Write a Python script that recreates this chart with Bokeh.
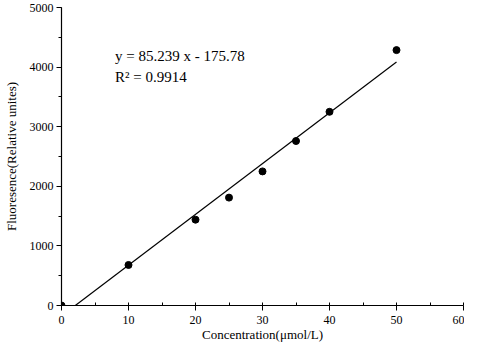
from bokeh.plotting import figure
from bokeh.models import Range1d, SingleIntervalTicker, Label
from bokeh.embed import file_html
from bokeh.resources import INLINE

# Data
conc = [0, 10, 20, 25, 30, 35, 40, 50]
fluor = [0, 680, 1440, 1810, 2250, 2760, 3250, 4285]
slope = 85.239
intercept = -175.78
r2 = 0.9914
x_tick_interval = 10
y_tick_interval = 1000
x_title = "Concentration(μmol/L)"
y_title = "Fluoresence(Relative unites)"

FONT = "Liberation Serif"

p = figure(width=464, height=344, output_backend="svg", toolbar_location=None,
           x_range=Range1d(0, 60), y_range=Range1d(0, 5000),
           min_border_left=54, min_border_right=1, min_border_top=7, min_border_bottom=38)
p.outline_line_color = None
p.xgrid.visible = False
p.ygrid.visible = False
p.background_fill_color = "white"

# fit line from x-intercept to last concentration
x0 = -intercept / slope
x1 = max(conc)
p.line([x0, x1], [slope * x0 + intercept, slope * x1 + intercept], line_color="black", line_width=1.2)
p.scatter(conc, fluor, size=7, color="black")

p.xaxis.ticker = SingleIntervalTicker(interval=x_tick_interval, num_minor_ticks=2)
p.yaxis.ticker = SingleIntervalTicker(interval=y_tick_interval, num_minor_ticks=2)

for ax in (p.xaxis[0], p.yaxis[0]):
    ax.axis_line_color = "black"
    ax.axis_line_width = 1.2
    ax.major_tick_line_color = "black"
    ax.minor_tick_line_color = "black"
    ax.major_tick_in = 0
    ax.major_tick_out = 5
    ax.major_label_text_font = FONT
    ax.major_label_text_font_size = "12px"
    ax.major_label_text_color = "black"
    ax.axis_label_text_font = FONT
    ax.axis_label_text_font_size = "13px"
    ax.axis_label_text_font_style = "normal"
    ax.axis_label_text_color = "black"

p.xaxis.minor_tick_in = 3
p.xaxis.minor_tick_out = 0
p.yaxis.minor_tick_in = 0
p.yaxis.minor_tick_out = 3

p.xaxis.axis_label = x_title
p.yaxis.axis_label = y_title
p.xaxis.major_label_standoff = 5
p.yaxis.major_label_standoff = 3
p.xaxis.axis_label_standoff = 0
p.yaxis.axis_label_standoff = 8

eq = "y = %.3f x - %.2f" % (slope, -intercept)
p.add_layout(Label(x=8.0, y=4180, text=eq, text_font=FONT, text_font_size="15px",
                   text_color="black", text_baseline="middle"))
p.add_layout(Label(x=8.0, y=3830, text="R² = %.4f" % r2, text_font=FONT, text_font_size="15px",
                   text_color="black", text_baseline="middle"))

open("out.html", "w").write(file_html(p, INLINE))
